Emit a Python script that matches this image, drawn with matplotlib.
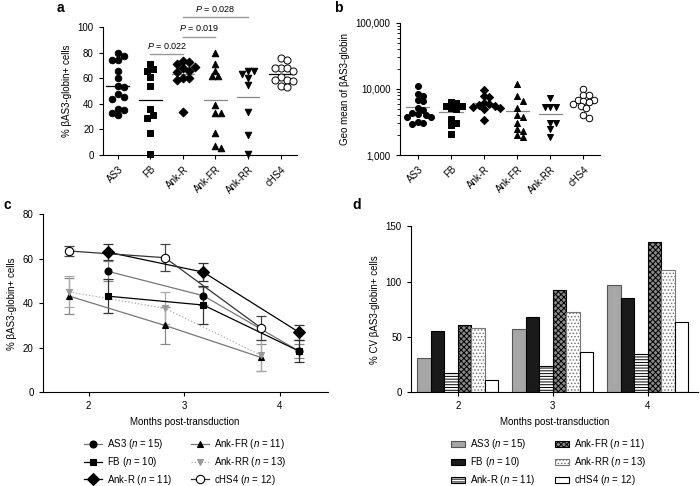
import matplotlib
matplotlib.use('Agg')
import matplotlib.pyplot as plt
import numpy as np
from matplotlib.lines import Line2D

plt.rcParams['font.family'] = ['Liberation Sans', 'DejaVu Sans']
plt.rcParams['mathtext.fontset'] = 'custom'
plt.rcParams['mathtext.rm'] = 'Liberation Sans'
plt.rcParams['mathtext.it'] = 'Liberation Sans:italic'
plt.rcParams['font.size'] = 7
plt.rcParams['axes.linewidth'] = 0.8
plt.rcParams['xtick.major.width'] = 0.8
plt.rcParams['ytick.major.width'] = 0.8
plt.rcParams['xtick.major.size'] = 3
plt.rcParams['ytick.major.size'] = 3
plt.rcParams['hatch.linewidth'] = 0.7

# ---------------- data ----------------
categories = ['AS3', 'FB', 'Ank-R', 'Ank-FR', 'Ank-RR', 'cHS4']

# panel a: % bAS3-globin+ cells
a_AS3 = [80, 77.5, 74.5, 74, 66, 60, 54, 53, 48, 45.5, 44, 36, 35, 33, 31]
a_FB = [71.4, 67, 66, 61, 54, 36, 31.7, 28.6, 17.4, 0.8]
a_AnkR = [73.5, 72.7, 71, 69, 68, 65.5, 65, 60.5, 60, 58.5, 33.8]
a_AnkFR = [80, 71, 66, 61.5, 61.5, 39, 33, 32.5, 17.5, 7.3, 5.7]
a_AnkRR = [66, 66, 63.5, 60.5, 54.5, 33.8, 15.6, 0.8]
a_cHS4 = [76, 74, 68, 68, 68, 65.5, 61, 58.5, 58.5, 57.7, 54, 53]

# panel b: geo mean of bAS3-globin
b_AS3 = [11000, 8400, 7900, 6900, 6500, 5100, 4800, 4400, 4200, 4050, 3800, 3700, 3200, 3000, 2900]
b_FB = [6400, 6200, 5600, 5500, 5200, 5000, 3500, 3000, 2800, 2100]
b_AnkR = [9700, 7700, 7500, 6200, 6000, 5800, 5600, 5400, 5200, 5000, 3400]
b_AnkFR = [12000, 7700, 6600, 5100, 4000, 3800, 3000, 2450, 2300, 2000, 1900]
b_AnkRR = [7200, 5400, 5300, 5300, 3100, 3000, 2500, 1900]
b_cHS4 = [10000, 8100, 8000, 6900, 6800, 6600, 6300, 5900, 5500, 5200, 4000, 3600]

# significance
sig_pairs = [(1, 2), (2, 3), (2, 4)]
sig_labels = ['0.022', '0.019', '0.028']
sig_heights = [78.7, 92.7, 108]

# panel c: time course
months = [2, 3, 4]
c_names = ['AS3 ($n$ = 15)', 'FB ($n$ = 10)', 'Ank-R ($n$ = 11)',
           'Ank-FR ($n$ = 11)', 'Ank-RR ($n$ = 13)', 'cHS4 ($n$ = 12)']
c_AS3 = [54.4, 43.4, 18.5]
c_AS3_err = [4.4, 4.0, 3.0]
c_FB = [43.2, 39.2, 18.5]
c_FB_err = [7.7, 8.5, 5.0]
c_AnkR = [63.0, 54.0, 27.0]
c_AnkR_err = [3.5, 4.0, 3.3]
c_AnkFR = [43.2, 30.0, 15.7]
c_AnkFR_err = [8.0, 8.3, 6.0]
c_AnkRR = [45.1, 37.7, 16.7]
c_AnkRR_err = [7.0, 7.2, 7.0]
c_cHS4 = [63.5, 60.5, 29.0]
c_cHS4_err = [2.3, 6.0, 5.3]

# panel d: % CV
d_AS3 = [31.3, 57.5, 97.0]
d_FB = [55.4, 68.0, 85.0]
d_AnkR = [17.8, 23.8, 34.3]
d_AnkFR = [60.5, 92.8, 135.8]
d_AnkRR = [57.8, 72.3, 110.2]
d_cHS4 = [11.1, 36.1, 63.9]

# ---------------- helpers ----------------
def swarm_offsets(ypix, xpix_per_unit, diam):
    n = len(ypix)
    order = sorted(range(n), key=lambda i: -ypix[i])
    placed = []
    offs = [0.0] * n
    cands = [0.0]
    for j in range(1, 12):
        cands += [j * diam * 0.5, -j * diam * 0.5]
    for i in order:
        y = ypix[i]
        for c in cands:
            if all((c - px) ** 2 + (y - py) ** 2 >= diam ** 2 for px, py in placed):
                break
        placed.append((c, y))
        offs[i] = c / xpix_per_unit
    return offs

markers = ['o', 's', 'D', '^', 'v', 'o']
faces = ['black', 'black', 'black', 'black', 'black', 'white']
msizes = [22, 20, 20, 22, 22, 26]

fig = plt.figure(figsize=(7, 4.86), dpi=100)
axa = fig.add_axes([0.147, 0.681, 0.277, 0.263])
axb = fig.add_axes([0.571, 0.681, 0.286, 0.272])
axc = fig.add_axes([0.061, 0.193, 0.407, 0.366])
axd = fig.add_axes([0.587, 0.193, 0.410, 0.341])

for ax in (axa, axb, axc, axd):
    ax.spines['top'].set_visible(False)
    ax.spines['right'].set_visible(False)

# ---------------- panel a ----------------
a_sets = [a_AS3, a_FB, a_AnkR, a_AnkFR, a_AnkRR, a_cHS4]
line_cols_a = ['black', 'black', '#888888', '#888888', '#888888', 'black']
for i, vals in enumerate(a_sets):
    ypix = [v * 1.28 for v in vals]
    offs = swarm_offsets(ypix, 32.5, 6.0)
    axa.scatter(np.array(offs) + i, vals, marker=markers[i], s=msizes[i],
                facecolor=faces[i], edgecolor='black', linewidths=0.7,
                zorder=3, clip_on=False)
    m = np.mean(vals)
    axa.plot([i - 0.35, i + 0.35], [m, m], color=line_cols_a[i], lw=0.9, zorder=2)
axa.set_xlim(-0.46, 5.5)
axa.set_ylim(0, 100)
axa.set_yticks([0, 20, 40, 60, 80, 100])
axa.set_xticks(range(len(categories)))
axa.set_xticklabels(categories, rotation=45, ha='right', rotation_mode='anchor')
axa.set_ylabel('% βAS3-globin+ cells')
for (x1, x2), lab, h in zip(sig_pairs, sig_labels, sig_heights):
    axa.plot([x1, x2], [h, h], color='#999999', lw=1.0, clip_on=False)
    axa.text((x1 + x2) / 2, h + 2.5, '$P$ = ' + lab, ha='center', va='bottom',
             fontsize=6.5, clip_on=False)

# ---------------- panel b ----------------
b_sets = [b_AS3, b_FB, b_AnkR, b_AnkFR, b_AnkRR, b_cHS4]
for i, vals in enumerate(b_sets):
    ypix = [66 * np.log10(v) for v in vals]
    offs = swarm_offsets(ypix, 33.0, 5.4)
    axb.scatter(np.array(offs) + i, vals, marker=markers[i], s=msizes[i] * 0.85,
                facecolor=faces[i], edgecolor='black', linewidths=0.7, zorder=3)
    m = np.mean(vals)
    axb.plot([i - 0.35, i + 0.35], [m, m], color='#888888', lw=0.9, zorder=2)
axb.set_yscale('log')
axb.set_ylim(1000, 100000)
axb.set_xlim(-0.55, 5.5)
axb.set_yticks([1000, 10000, 100000])
axb.set_yticklabels(['1,000', '10,000', '100,000'])
axb.tick_params(axis='y', which='minor', length=2, width=0.6)
axb.set_xticks(range(len(categories)))
axb.set_xticklabels(categories, rotation=45, ha='right', rotation_mode='anchor')
axb.set_ylabel('Geo mean of βAS3-globin')

# ---------------- panel c ----------------
c_sets = [c_AS3, c_FB, c_AnkR, c_AnkFR, c_AnkRR, c_cHS4]
c_errs = [c_AS3_err, c_FB_err, c_AnkR_err, c_AnkFR_err, c_AnkRR_err, c_cHS4_err]
c_shift = [0.2, 0.2, 0.2, -0.2, -0.2, -0.2]
c_mk = ['o', 's', 'D', '^', 'v', 'o']
c_ms = [5, 5, 6, 4.5, 5, 6]
c_mfc = ['black', 'black', 'black', 'black', '#999999', 'white']
c_mec = ['black', 'black', 'black', 'black', '#999999', 'black']
c_lc = ['#777777', 'black', 'black', '#777777', '#aaaaaa', '#333333']
c_ls = ['-', '-', '-', '-', ':', '-']
c_ec = ['#888888', '#333333', '#333333', '#888888', '#aaaaaa', '#444444']
handles = []
for i in range(6):
    xs = np.array(months) + c_shift[i]
    axc.errorbar(xs, c_sets[i], yerr=c_errs[i], fmt='none', ecolor=c_ec[i],
                 elinewidth=0.9, capsize=3.5, capthick=0.9, zorder=2)
    axc.plot(xs, c_sets[i], color=c_lc[i], ls=c_ls[i], lw=0.9, zorder=3)
    axc.plot(xs, c_sets[i], ls='none', marker=c_mk[i], ms=c_ms[i],
             mfc=c_mfc[i], mec=c_mec[i], mew=0.8, zorder=4)
    handles.append(Line2D([], [], color=c_lc[i], ls=c_ls[i], lw=0.9, marker=c_mk[i],
                          ms=c_ms[i], mfc=c_mfc[i], mec=c_mec[i], mew=0.8))
axc.set_xlim(1.52, 4.5)
axc.set_ylim(0, 80)
axc.set_xticks(months)
axc.set_yticks([0, 20, 40, 60, 80])
axc.set_xlabel('Months post-transduction', labelpad=4)
axc.set_ylabel('% βAS3-globin+ cells')
axc.legend(handles, c_names, ncol=2, loc='upper center', bbox_to_anchor=(0.5, -0.215),
           frameon=False, handlelength=1.8, columnspacing=2.0, labelspacing=0.38,
           handletextpad=0.5, fontsize=7, borderaxespad=0.3)

# ---------------- panel d ----------------
d_sets = [d_AS3, d_FB, d_AnkR, d_AnkFR, d_AnkRR, d_cHS4]
d_fc = ['#a6a6a6', '#1a1a1a', 'white', '#8a8a8a', 'white', 'white']
d_ec = ['#555555', 'black', 'black', 'black', '#777777', 'black']
d_hatch = [None, None, '------', 'xxxxxx', '.....', None]
bw = 0.142
for i in range(6):
    xs = np.array(months) + (i - 2.5) * bw
    axd.bar(xs, d_sets[i], width=bw, color=d_fc[i], edgecolor=d_ec[i],
            hatch=d_hatch[i], linewidth=0.8, label=c_names[i])
axd.set_xlim(1.505, 4.53)
axd.set_ylim(0, 150)
axd.set_xticks(months)
axd.set_yticks([0, 50, 100, 150])
axd.set_xlabel('Months post-transduction', labelpad=4)
axd.set_ylabel('% CV βAS3-globin+ cells')
axd.legend(ncol=2, loc='upper center', bbox_to_anchor=(0.48, -0.23),
           frameon=False, handlelength=1.5, handleheight=0.6, columnspacing=2.0,
           labelspacing=0.42, handletextpad=0.5, fontsize=7, borderaxespad=0.3)

# panel letters
fig.text(60 / 700, 1 - 8 / 486, 'a', fontsize=10, fontweight='bold', ha='center', va='center')
fig.text(338 / 700, 1 - 8 / 486, 'b', fontsize=10, fontweight='bold', ha='center', va='center')
fig.text(7 / 700, 1 - 205 / 486, 'c', fontsize=10, fontweight='bold', ha='center', va='center')
fig.text(357 / 700, 1 - 205 / 486, 'd', fontsize=10, fontweight='bold', ha='center', va='center')

fig.savefig('out.png', dpi=100)
